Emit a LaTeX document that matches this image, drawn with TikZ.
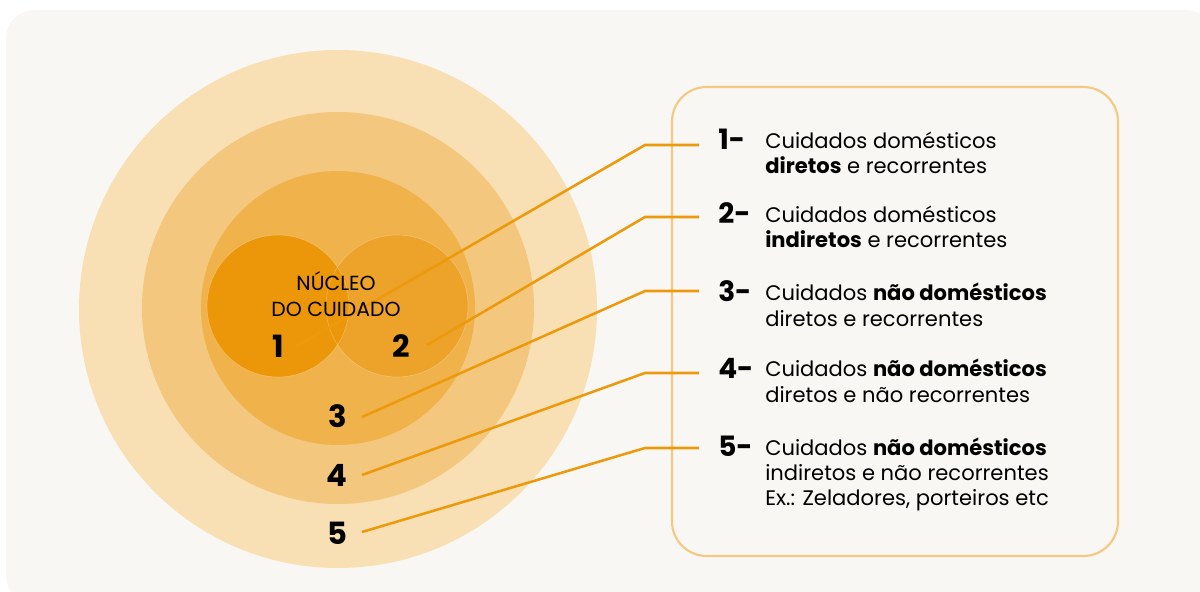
\documentclass[tikz,border=0pt]{standalone}
\usepackage{fontspec}
\setmainfont{Poppins}
\usetikzlibrary{calc}

\definecolor{bgcream}{HTML}{F8F7F3}
\definecolor{ringfive}{HTML}{F9DFB4}
\definecolor{ringfour}{HTML}{F4C77E}
\definecolor{ringthree}{HTML}{F0B24A}
\definecolor{coretwo}{HTML}{EDA229}
\definecolor{coreone}{HTML}{EC9608}
\definecolor{linkorange}{HTML}{EC9A0C}
\definecolor{boxorange}{HTML}{F6C982}

\tikzset{
  ringlabel/.style={font=\fontsize{23}{23}\selectfont\bfseries, inner sep=0pt, anchor=base},
  itemnum/.style={font=\fontsize{21}{21}\selectfont\bfseries, inner sep=0pt, anchor=base west},
  itemtext/.style={font=\fontsize{15.8}{19}\selectfont, inner sep=0pt, anchor=base west, align=left},
  connector/.style={linkorange, line width=1.9pt}
}

\begin{document}
\begin{tikzpicture}[x=0.75pt,y=-0.75pt]
            \useasboundingbox (0,0) rectangle (1200,592);

            % Background card
            \begin{scope}
                \clip (0,0) rectangle (1200,592);
                \fill[bgcream, rounded corners=21pt] (6,10) rectangle (1214,604);
            \end{scope}

            % Draw the rings
            \fill[ringfive] (338,309) circle[radius=259];
            \fill[ringfour] (338,308) circle[radius=196];
            \fill[ringthree] (338,308) circle[radius=137];
            \fill[coretwo] (397,306) circle[radius=71];
            \fill[coreone, fill opacity=0.96] (278,306) circle[radius=71];
            \draw[white, opacity=0.25, line width=0.5pt] (397,306) circle[radius=71];
            \draw[white, opacity=0.25, line width=0.5pt] (278,306) circle[radius=71];

            % Legend box
            \draw[boxorange, line width=1.6pt, rounded corners=26pt] (672,87) rectangle (1118,556);

            % Labels in the rings
            \node[ringlabel] (n1) at (278,357) {1};
            \node[ringlabel] (n2) at (401,357) {2};
            \node[ringlabel] (n3) at (338,427) {3};
            \node[ringlabel] (n4) at (337,486) {4};
            \node[ringlabel] (n5) at (337,544) {5};

            % Legend items (text nodes sit on the baseline of their last line)
            \node[itemnum] (m1) at (718,149) {1-};
            \node[itemnum] (m2) at (718,223) {2-};
            \node[itemnum] (m3) at (718,301) {3-};
            \node[itemnum] (m4) at (718,378) {4-};
            \node[itemnum] (m5) at (718,456) {5-};

            \node[itemtext] (t1) at (765,173.8) {Cuidados domésticos\\\textbf{diretos} e recorrentes};
            \node[itemtext] (t2) at (765,247.8) {Cuidados domésticos\\\textbf{indiretos} e recorrentes};
            \node[itemtext] (t3) at (765,326.3) {Cuidados \textbf{não domésticos}\\diretos e recorrentes};
            \node[itemtext] (t4) at (765,402.3) {Cuidados \textbf{não domésticos}\\diretos e não recorrentes};
            \node[itemtext] (t5) at (765,505.7) {Cuidados \textbf{não domésticos}\\indiretos e não recorrentes\\Ex.: Zeladores, porteiros etc};

            % Connector points
            \coordinate (s1) at (295,347);
            \coordinate (s2) at (427,345);
            \coordinate (s3) at (362,417);
            \coordinate (s4) at (362,475);
            \coordinate (s5) at (362,532);
            \coordinate (k1) at (645,145);
            \coordinate (k2) at (645,217);
            \coordinate (k3) at (645,291);
            \coordinate (k4) at (645,373);
            \coordinate (k5) at (645,448);
            \coordinate (e1) at (699,145);
            \coordinate (e2) at (699,217);
            \coordinate (e3) at (699,291);
            \coordinate (e4) at (699,373);
            \coordinate (e5) at (699,448);

            % Draw connectors
            \foreach \i in {1,...,5}{
                \draw[connector] (s\i) -- (k\i) -- (e\i);
            }

            % Core title
            \node[font=\fontsize{15.3}{15}\selectfont, inner sep=0pt, anchor=base] (core1) at (336,290) {NÚCLEO};
            \node[font=\fontsize{15.3}{15}\selectfont, inner sep=0pt, anchor=base] (core2) at (336,316) {DO CUIDADO};

\end{tikzpicture}
\end{document}
